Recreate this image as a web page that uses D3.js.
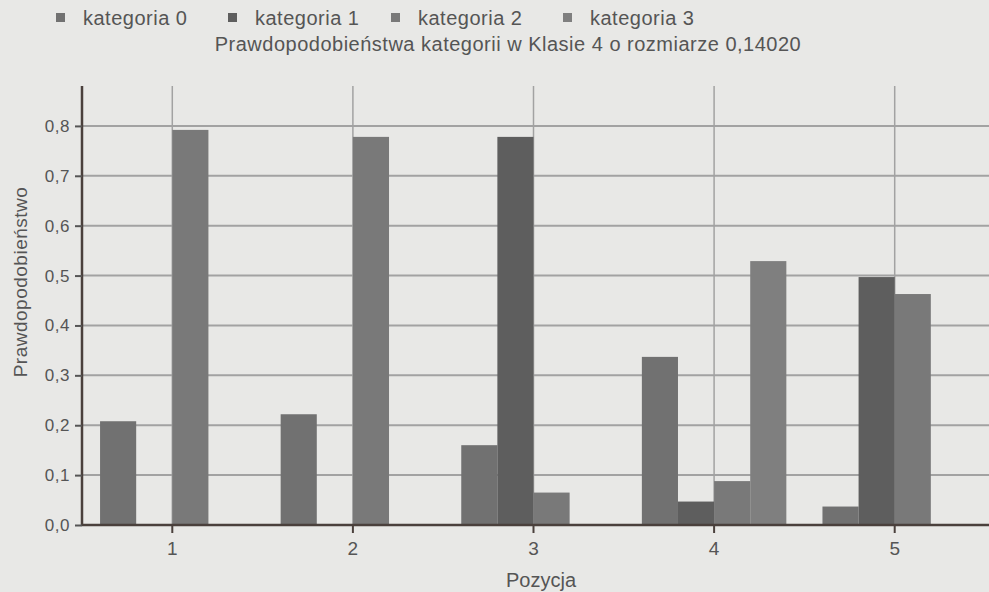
<!DOCTYPE html>
<html>
<head>
<meta charset="utf-8">
<script src="https://cdn.jsdelivr.net/npm/d3@7"></script>
<style>
  body { margin: 0; background: #e8e8e6; }
  svg { display: block; font-family: "Liberation Sans", Arial, sans-serif; }
</style>
</head>
<body>
<div id="chart"></div>
<script>
const positions = [1, 2, 3, 4, 5];
const categories = ["kategoria 0", "kategoria 1", "kategoria 2", "kategoria 3"];
const colors = ["#717171", "#5e5e5e", "#797979", "#7f7f7f"];

// probability per category, one value per position
const kat0 = [0.208, 0.222, 0.160, 0.337, 0.037];
const kat1 = [0.0, 0.0, 0.778, 0.047, 0.497];
const kat2 = [0.792, 0.778, 0.065, 0.088, 0.463];
const kat3 = [0.0, 0.0, 0.0, 0.529, 0.0];
const series = [kat0, kat1, kat2, kat3];

const yTicks = [0, 0.1, 0.2, 0.3, 0.4, 0.5, 0.6, 0.7, 0.8];

const width = 989, height = 592;
const margins = {top: 86, right: 4, bottom: 67, left: 82};

const svg = d3.select("#chart").append("svg")
  .attr("width", width)
  .attr("height", height);

const xScale = d3.scaleBand()
  .domain(positions)
  .range([margins.left, width - margins.right])
  .padding(0);

const xInner = d3.scaleBand()
  .domain(d3.range(categories.length))
  .range([0, xScale.bandwidth()])
  .paddingOuter(0.5)
  .paddingInner(0);

const yScale = d3.scaleLinear()
  .domain([0, 0.88])
  .range([height - margins.bottom, margins.top]);

const fmt = d => d3.format(".1f")(d).replace(".", ",");

// horizontal grid
svg.append("g")
  .selectAll("line")
  .data(yTicks.slice(1))
  .join("line")
    .attr("x1", margins.left)
    .attr("x2", width)
    .attr("y1", d => yScale(d))
    .attr("y2", d => yScale(d))
    .attr("stroke", "#a2a2a2")
    .attr("stroke-width", 2);

// vertical grid at positions
svg.append("g")
  .selectAll("line")
  .data(positions)
  .join("line")
    .attr("x1", d => xScale(d) + xScale.bandwidth() / 2)
    .attr("x2", d => xScale(d) + xScale.bandwidth() / 2)
    .attr("y1", margins.top)
    .attr("y2", yScale(0))
    .attr("stroke", "#a2a2a2")
    .attr("stroke-width", 1.5);

// bars
series.forEach(function(vals, ci) {
  svg.append("g")
    .attr("fill", colors[ci])
    .selectAll("rect")
    .data(vals)
    .join("rect")
      .attr("x", (d, i) => xScale(positions[i]) + xInner(ci))
      .attr("y", d => yScale(d))
      .attr("width", xInner.bandwidth())
      .attr("height", d => yScale(0) - yScale(d));
});

// axes
const bottomTranslate = height - margins.bottom;

svg.append("g")
  .attr("transform", "translate(0," + bottomTranslate + ")")
  .call(d3.axisBottom(xScale).tickSize(8).tickPadding(9))
  .call(g => g.select(".domain").attr("stroke", "#4a403c").attr("stroke-width", 2.5)
      .attr("d", "M" + margins.left + ",0H" + width))
  .call(g => g.selectAll(".tick line").attr("stroke", "#4a403c").attr("stroke-width", 2))
  .call(g => g.selectAll(".tick text").attr("font-size", "19px").attr("fill", "#555"))
  .attr("font-family", null);

svg.append("g")
  .attr("transform", "translate(" + margins.left + ",0)")
  .call(d3.axisLeft(yScale).tickValues(yTicks).tickFormat(fmt).tickSize(7).tickPadding(5))
  .call(g => g.select(".domain").attr("stroke", "#4a403c").attr("stroke-width", 2.5)
      .attr("d", "M0," + yScale(0) + "V" + margins.top))
  .call(g => g.selectAll(".tick line").attr("stroke", "#555").attr("stroke-width", 2))
  .call(g => g.selectAll(".tick text").attr("font-size", "17px").attr("letter-spacing", "0.5px").attr("fill", "#555"))
  .attr("font-family", null);

// axis titles
svg.append("text")
  .attr("x", 541)
  .attr("y", 587)
  .attr("text-anchor", "middle")
  .attr("font-size", "20px")
  .attr("fill", "#555")
  .text("Pozycja");

svg.append("text")
  .attr("transform", "translate(27,282) rotate(-90)")
  .attr("text-anchor", "middle")
  .attr("font-size", "19px")
  .attr("letter-spacing", "0.5px")
  .attr("fill", "#555")
  .text("Prawdopodobieństwo");

// title
svg.append("text")
  .attr("x", 508)
  .attr("y", 51)
  .attr("text-anchor", "middle")
  .attr("font-size", "20px")
  .attr("letter-spacing", "0.5px")
  .attr("fill", "#555")
  .text("Prawdopodobieństwa kategorii w Klasie 4 o rozmiarze 0,14020");

// legend
const legendX = [56, 228, 391, 563];
const legend = svg.append("g")
  .selectAll("g")
  .data(categories)
  .join("g")
    .attr("transform", (d, i) => "translate(" + legendX[i] + ",13)");

legend.append("rect")
  .attr("width", 9)
  .attr("height", 9)
  .attr("fill", (d, i) => colors[i]);

legend.append("text")
  .attr("x", 27)
  .attr("y", 12)
  .attr("font-size", "20px")
  .attr("letter-spacing", "0.5px")
  .attr("fill", "#555")
  .text(d => d);
</script>
</body>
</html>
